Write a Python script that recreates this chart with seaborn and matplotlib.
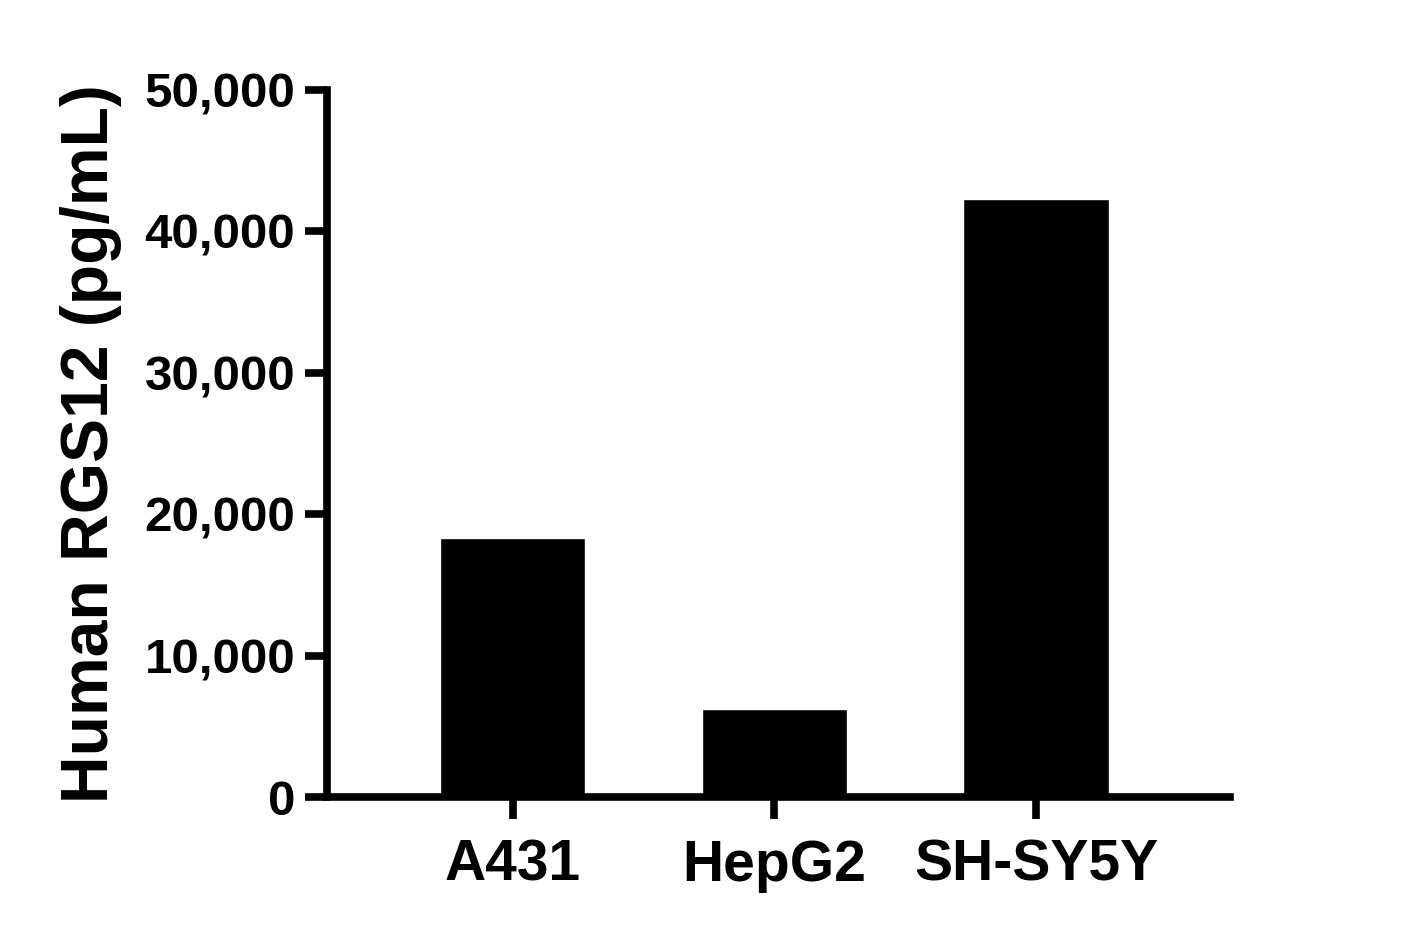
import matplotlib
matplotlib.use("Agg")
import matplotlib.pyplot as plt
import matplotlib.ticker as mticker
import pandas as pd
import seaborn as sns

# Values
cell_lines = ["A431", "HepG2", "SH-SY5Y"]
rgs12_pg_ml = [18300, 6200, 42300]
y_ticks = [0, 10000, 20000, 30000, 40000, 50000]

sns.set_theme(style="ticks")
plt.rcParams['font.family'] = ['Liberation Sans', 'DejaVu Sans']
plt.rcParams['font.weight'] = 'bold'
plt.rcParams['text.color'] = 'black'
plt.rcParams['axes.labelcolor'] = 'black'
plt.rcParams['xtick.color'] = 'black'
plt.rcParams['ytick.color'] = 'black'

df = pd.DataFrame({"cell_line": cell_lines, "value": rgs12_pg_ml})

fig = plt.figure(figsize=(14.07, 9.38), dpi=100)
ax = fig.add_axes([0.2324, 0.1503, 0.6418, 0.7537])

sns.barplot(data=df, x="cell_line", y="value", color="black",
            width=0.555, saturation=1, ax=ax)

lw = 5.5
ax.set_xlim(-0.711, 2.742)
ax.set_ylim(0, 50000)
ax.set_yticks(y_ticks)
ax.yaxis.set_major_formatter(mticker.FuncFormatter(lambda v, p: f"{int(v):,}"))

for side in ["top", "right"]:
    ax.spines[side].set_visible(False)
for side in ["left", "bottom"]:
    ax.spines[side].set_linewidth(lw)
    ax.spines[side].set_color("black")
    ax.spines[side].set_capstyle("projecting")

ax.tick_params(axis="y", length=16, width=lw, colors="black", labelsize=35.5, pad=7)
ax.tick_params(axis="x", length=16, width=lw, colors="black", labelsize=41, pad=14)
for lab in ax.get_xticklabels() + ax.get_yticklabels():
    lab.set_fontweight("bold")

ax.set_xlabel("")
ax.set_ylabel("Human RGS12 (pg/mL)", fontsize=47.5, fontweight="bold", color="black")
ax.yaxis.set_label_coords(-0.227, 0.5)

fig.savefig("out.png", dpi=100)
